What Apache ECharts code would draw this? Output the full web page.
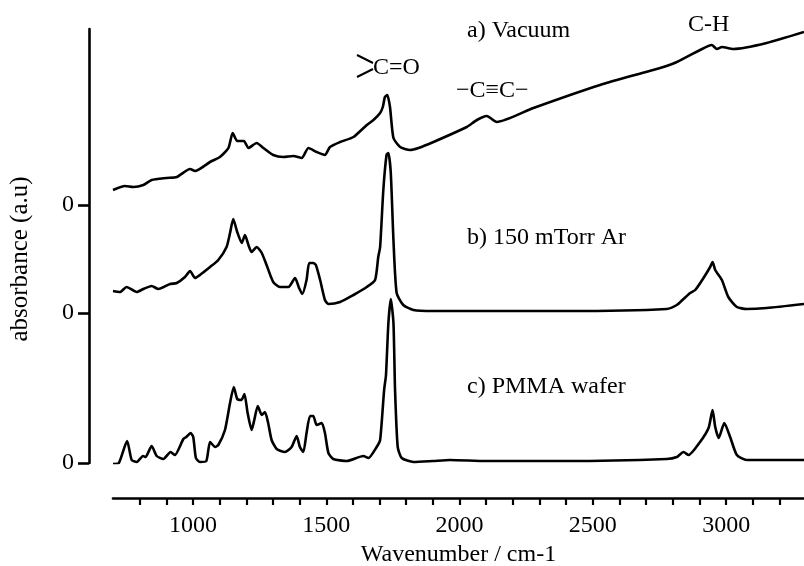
<!DOCTYPE html>
<html>
<head>
<meta charset="utf-8">
<script src="https://cdn.jsdelivr.net/npm/echarts@6/dist/echarts.min.js"></script>
<style>
  html, body { margin: 0; padding: 0; background: #fff; }
  #chart { width: 804px; height: 566px; }
</style>
</head>
<body>
<div id="chart"></div>
<script>
// wavenumbers (cm-1) and absorbance (a.u., relative to each trace's own zero)
var wnA = [700, 745, 776, 814, 845, 901, 939, 989, 1008, 1064, 1101, 1133, 1149, 1166, 1191, 1208, 1239, 1264, 1301, 1339,
  1376, 1408, 1433, 1464, 1495, 1514, 1552, 1602, 1652, 1677, 1702, 1712, 1720, 1729, 1739, 1752, 1777, 1814, 1846, 1902,
  2027, 2065, 2102, 2140, 2277, 2527, 2752, 2815, 2902, 2946, 2965, 2984, 3027, 3152, 3292];
var absA = [0.15, 0.19, 0.18, 0.20, 0.25, 0.27, 0.28, 0.36, 0.34, 0.43, 0.48, 0.57, 0.72, 0.64, 0.64, 0.57, 0.62, 0.57, 0.50, 0.48,
  0.49, 0.47, 0.57, 0.53, 0.50, 0.58, 0.63, 0.68, 0.80, 0.85, 0.92, 0.98, 1.08, 1.10, 0.98, 0.67, 0.58, 0.55, 0.57, 0.63,
  0.78, 0.85, 0.89, 0.83, 0.97, 1.20, 1.37, 1.43, 1.55, 1.60, 1.56, 1.58, 1.56, 1.62, 1.73];

var wnB = [700, 726, 751, 789, 814, 845, 870, 914, 939, 970, 989, 1008, 1026, 1064, 1095, 1126, 1139, 1151, 1166, 1183,
  1195, 1208, 1220, 1239, 1258, 1276, 1301, 1326, 1358, 1383, 1398, 1410, 1426, 1436, 1451, 1461, 1477, 1495, 1508, 1552,
  1602, 1652, 1683, 1695, 1702, 1714, 1726, 1733, 1742, 1752, 1764, 1789, 1827, 1900, 2100, 2400, 2777, 2815, 2840, 2865,
  2884, 2915, 2940, 2949, 2959, 2984, 3008, 3040, 3077, 3152, 3292];
var absB = [0.22, 0.21, 0.26, 0.21, 0.24, 0.27, 0.24, 0.29, 0.30, 0.36, 0.42, 0.35, 0.38, 0.46, 0.53, 0.66, 0.80, 0.94, 0.81, 0.70,
  0.78, 0.68, 0.61, 0.66, 0.60, 0.48, 0.31, 0.26, 0.26, 0.35, 0.25, 0.19, 0.33, 0.50, 0.50, 0.48, 0.33, 0.13, 0.09, 0.11,
  0.18, 0.26, 0.33, 0.56, 0.66, 1.23, 1.58, 1.60, 1.40, 0.73, 0.20, 0.08, 0.03, 0.02, 0.02, 0.02, 0.04, 0.08, 0.14, 0.20,
  0.23, 0.35, 0.46, 0.51, 0.43, 0.33, 0.16, 0.06, 0.04, 0.05, 0.09];

var wnC = [700, 722, 753, 770, 789, 813, 822, 845, 864, 889, 916, 932, 964, 975, 991, 1001, 1011, 1026, 1050, 1064,
  1083, 1095, 1120, 1139, 1153, 1166, 1182, 1193, 1205, 1220, 1230, 1243, 1258, 1270, 1282, 1295, 1314, 1345, 1370, 1389,
  1401, 1414, 1426, 1439, 1451, 1464, 1483, 1495, 1508, 1526, 1577, 1639, 1658, 1689, 1702, 1717, 1724, 1733, 1742, 1752,
  1758, 1768, 1783, 1827, 1900, 1964, 2100, 2400, 2777, 2815, 2840, 2859, 2902, 2934, 2949, 2959, 2972, 2993, 3015, 3040,
  3077, 3292];
var absC = [-0.01, 0.00, 0.22, 0.03, 0.01, 0.07, 0.06, 0.17, 0.07, 0.04, 0.11, 0.08, 0.24, 0.26, 0.30, 0.26, 0.05, 0.01, 0.02, 0.21,
  0.16, 0.18, 0.33, 0.60, 0.76, 0.64, 0.63, 0.69, 0.50, 0.33, 0.43, 0.57, 0.48, 0.51, 0.40, 0.23, 0.14, 0.11, 0.16, 0.27,
  0.16, 0.11, 0.30, 0.47, 0.47, 0.38, 0.40, 0.30, 0.10, 0.04, 0.02, 0.07, 0.05, 0.16, 0.23, 0.73, 0.88, 1.40, 1.64, 1.40,
  0.73, 0.16, 0.05, 0.01, 0.02, 0.03, 0.02, 0.02, 0.04, 0.06, 0.11, 0.08, 0.21, 0.35, 0.53, 0.36, 0.25, 0.40, 0.26, 0.08,
  0.03, 0.03];

// vertical offsets of the three traces (their "0" ticks)
var offsets = [2.58, 1.5, 0];
var names = ['a) Vacuum', 'b) 150 mTorr Ar', 'c) PMMA wafer'];
var xTicks = [800, 900, 1000, 1100, 1200, 1300, 1400, 1500, 1600, 1700, 1800, 1900, 2000, 2100, 2200, 2300, 2400, 2500,
  2600, 2700, 2800, 2900, 3000, 3100, 3200];
var xLabels = [1000, 1500, 2000, 2500, 3000];

var font = '"Liberation Serif", "DejaVu Serif", serif';

function pairs(wn, ab, off) {
  return wn.map(function (w, i) { return [w, +(ab[i] + off).toFixed(3)]; });
}

var traces = [[wnA, absA], [wnB, absB], [wnC, absC]];

var chart = echarts.init(document.getElementById('chart'));
var option = {
  backgroundColor: '#fff',
  animation: false,
  grid: { left: 113, right: 0, top: 29, bottom: 103, outerBoundsMode: 'none', containLabel: false },
  xAxis: {
    type: 'value',
    min: 700,
    max: 3292,
    offset: 35,
    name: 'Wavenumber / cm-1',
    nameLocation: 'middle',
    nameGap: 40,
    nameTextStyle: { color: '#000', fontFamily: font, fontSize: 24 },
    axisLine: { onZero: false, lineStyle: { color: '#000', width: 2.6 } },
    axisTick: { customValues: xTicks, length: 7, lineStyle: { color: '#000', width: 2.2 } },
    axisLabel: {
      customValues: xLabels, color: '#000', fontFamily: font, fontSize: 24, margin: 16,
      formatter: function (v) { return String(v); }
    },
    splitLine: { show: false }
  },
  yAxis: {
    type: 'value',
    min: 0,
    max: 4.34,
    offset: 24,
    axisLine: { show: true, onZero: false, lineStyle: { color: '#000', width: 2.6 } },
    axisTick: { customValues: offsets, length: 11, lineStyle: { color: '#000', width: 2.6 } },
    axisLabel: {
      customValues: offsets, color: '#000', fontFamily: font, fontSize: 24, margin: 15,
      formatter: function () { return '0'; }
    },
    splitLine: { show: false }
  },
  series: traces.map(function (t, k) {
    return {
      name: names[k],
      type: 'line',
      showSymbol: false,
      symbol: 'none',
      smooth: 0.2,
      data: pairs(t[0], t[1], offsets[k]),
      lineStyle: { color: '#000', width: 2.6 }
    };
  }),
  graphic: [
    {
      type: 'text', x: 20, y: 259, rotation: Math.PI / 2,
      style: { text: 'absorbance (a.u)', font: '25px ' + font, fill: '#000', align: 'center', verticalAlign: 'middle' }
    },
    { type: 'text', left: 467, top: 19, style: { text: names[0], font: '24px ' + font, fill: '#000' } },
    { type: 'text', left: 467, top: 226, style: { text: names[1], font: '24px ' + font, fill: '#000' } },
    { type: 'text', left: 467, top: 375, style: { text: names[2], font: '24px ' + font, fill: '#000' } },
    { type: 'text', left: 688, top: 13, style: { text: 'C-H', font: '24px ' + font, fill: '#000' } },
    { type: 'text', left: 456, top: 79, style: { text: '\u2212C\u2261C\u2212', font: '24px ' + font, fill: '#000' } },
    { type: 'text', left: 373, top: 56, style: { text: 'C=O', font: '24px ' + font, fill: '#000' } },
    { type: 'line', shape: { x1: 357, y1: 55, x2: 373, y2: 63 }, style: { stroke: '#000', lineWidth: 2 } },
    { type: 'line', shape: { x1: 357, y1: 77, x2: 373, y2: 69 }, style: { stroke: '#000', lineWidth: 2 } }
  ]
};
chart.setOption(option);
</script>
</body>
</html>
